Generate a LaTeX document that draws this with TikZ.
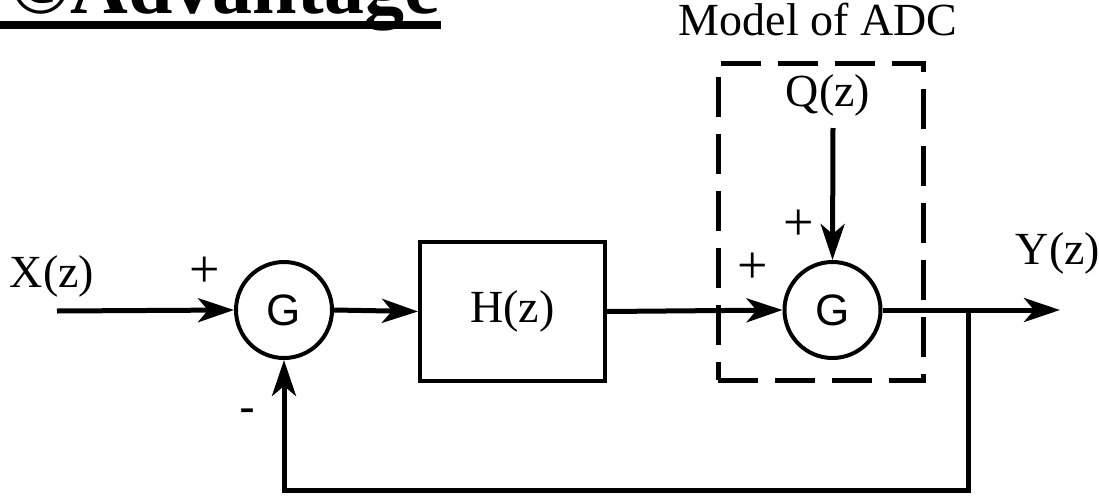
\documentclass[tikz,border=0pt]{standalone}
\usepackage{fontspec}
\setmainfont{Liberation Serif}
\newfontfamily\arialfont{Liberation Sans}
\usetikzlibrary{arrows.meta, positioning}

\begin{document}
\begin{tikzpicture}[x=0.5pt, y=0.5pt,
    sumnode/.style={circle, draw, line width=2pt, minimum size=48pt, inner sep=0pt,
        font=\arialfont\fontsize{22}{24}\selectfont},
    block/.style={rectangle, draw, line width=2pt, minimum width=92.5pt,
        minimum height=69.5pt, font=\fontsize{23}{25}\selectfont},
    adcbox/.style={rectangle, draw, line width=2.5pt, dash pattern=on 20pt off 8.5pt,
        minimum width=102.5pt, minimum height=158.5pt},
    lbl/.style={font=\fontsize{23}{25}\selectfont, inner sep=0pt},
    sgn/.style={font=\fontsize{27}{29}\selectfont, inner sep=0pt},
    arr/.style={-{Stealth[length=18pt, width=12pt, inset=5pt]}, line width=2.5pt}
]
\useasboundingbox (0,0) rectangle (1099,495);

% Title (cut at the top)
\node[anchor=base east, inner sep=0pt, font=\fontsize{40}{40}\selectfont\bfseries] (title) at (440, 482) {©Advantage};
\draw[line width=4pt] (0,470) -- (441,470);

% Blocks
\node[sumnode] (sum1) at (284, 185) {G};
\node[block] (hz) at (512.5, 183.5) {H(z)};
\node[adcbox] (adc) at (820.5, 273.5) {};
\node[sumnode] (sum2) at (832.5, 185) {G};

% Signals
\coordinate (xin) at (57, 184);
\coordinate (qin) at (833, 367);
\coordinate (yout) at (1060, 185);
\coordinate (br) at (968, 185);
\coordinate (fb) at (968, 5);

\node[lbl] (xz) at (52, 219) {X(z)};
\node[lbl] (qz) at (828, 400) {Q(z)};
\node[lbl] (yz) at (1058, 242) {Y(z)};
\node[lbl] (model) at (818, 475) {Model of ADC};

% Signs
\node[sgn] (p1) at (205, 223) {+};
\node[sgn] (p2) at (753, 227) {+};
\node[sgn] (p3) at (799, 270) {+};
\node[lbl, font=\arialfont\fontsize{24}{26}\selectfont] (m1) at (247, 79) {-};

% Connections
\draw[arr] (xin) -- (sum1.west);
\draw[arr] (sum1.east) -- (hz.west);
\draw[arr] (hz.east) -- (sum2.west);
\draw[arr] (qin) -- (sum2.north);
\draw[arr] (sum2.east) -- (yout);
\draw[arr] (br) -- (fb) -| (sum1.south);

\end{tikzpicture}
\end{document}
